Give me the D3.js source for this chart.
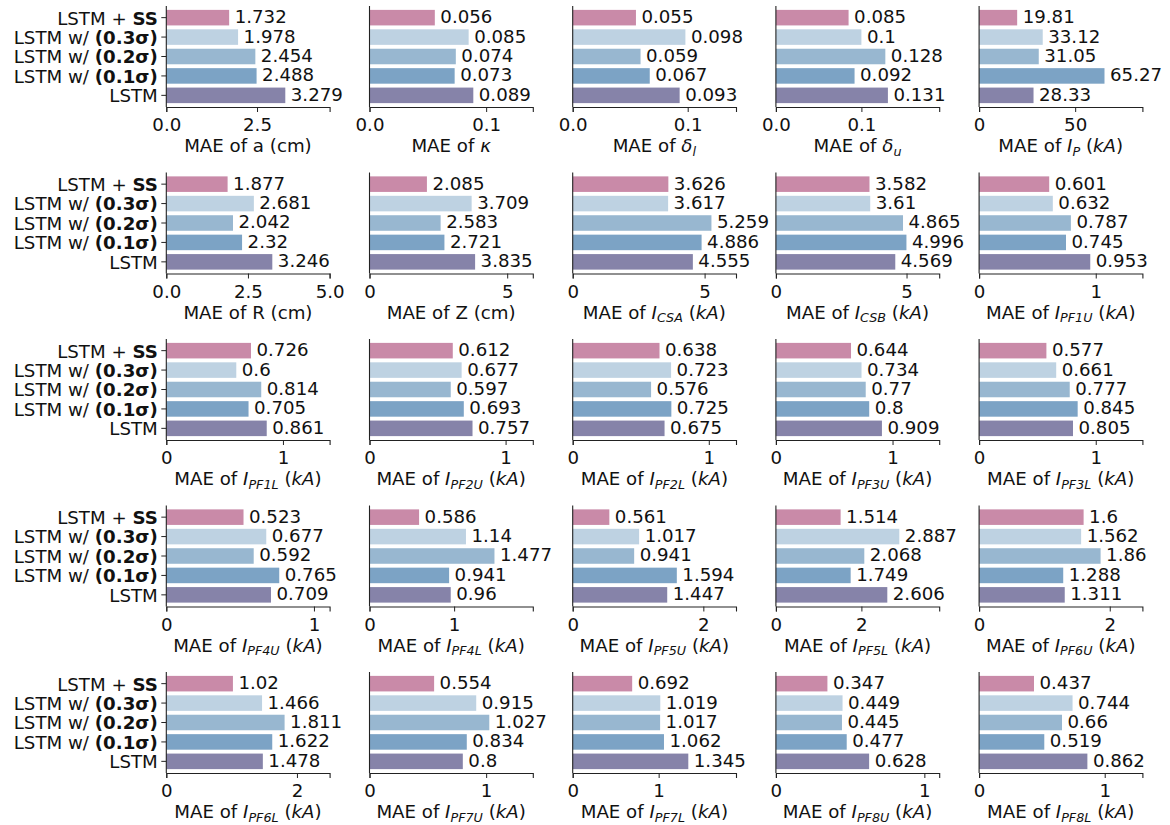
<!DOCTYPE html>
<html><head><meta charset="utf-8">
<script src="https://cdn.jsdelivr.net/npm/d3@7"></script>
<style>body{margin:0;background:#fff}svg{display:block}</style></head>
<body><svg id="c" width="1170" height="825"></svg>
<script>
// ---- data ----
const categories = [["LSTM + ","SS"],["LSTM w/ ","(0.3σ)"],["LSTM w/ ","(0.2σ)"],["LSTM w/ ","(0.1σ)"],["LSTM",""]];
const colors = ["#C98AA8","#BED2E2","#98B7D0","#7CA3C5","#8683A9"];

const mae_a     = [1.732, 1.978, 2.454, 2.488, 3.279];
const mae_kappa = [0.056, 0.085, 0.074, 0.073, 0.089];
const mae_dl    = [0.055, 0.098, 0.059, 0.067, 0.093];
const mae_du    = [0.085, 0.1, 0.128, 0.092, 0.131];
const mae_Ip    = [19.81, 33.12, 31.05, 65.27, 28.33];
const mae_R     = [1.877, 2.681, 2.042, 2.32, 3.246];
const mae_Z     = [2.085, 3.709, 2.583, 2.721, 3.835];
const mae_CSA   = [3.626, 3.617, 5.259, 4.886, 4.555];
const mae_CSB   = [3.582, 3.61, 4.865, 4.996, 4.569];
const mae_PF1U  = [0.601, 0.632, 0.787, 0.745, 0.953];
const mae_PF1L  = [0.726, 0.6, 0.814, 0.705, 0.861];
const mae_PF2U  = [0.612, 0.677, 0.597, 0.693, 0.757];
const mae_PF2L  = [0.638, 0.723, 0.576, 0.725, 0.675];
const mae_PF3U  = [0.644, 0.734, 0.77, 0.8, 0.909];
const mae_PF3L  = [0.577, 0.661, 0.777, 0.845, 0.805];
const mae_PF4U  = [0.523, 0.677, 0.592, 0.765, 0.709];
const mae_PF4L  = [0.586, 1.14, 1.477, 0.941, 0.96];
const mae_PF5U  = [0.561, 1.017, 0.941, 1.594, 1.447];
const mae_PF5L  = [1.514, 2.887, 2.068, 1.749, 2.606];
const mae_PF6U  = [1.6, 1.562, 1.86, 1.288, 1.311];
const mae_PF6L  = [1.02, 1.466, 1.811, 1.622, 1.478];
const mae_PF7U  = [0.554, 0.915, 1.027, 0.834, 0.8];
const mae_PF7L  = [0.692, 1.019, 1.017, 1.062, 1.345];
const mae_PF8U  = [0.347, 0.449, 0.445, 0.477, 0.628];
const mae_PF8L  = [0.437, 0.744, 0.66, 0.519, 0.862];

const panelValues = [mae_a, mae_kappa, mae_dl, mae_du, mae_Ip,
  mae_R, mae_Z, mae_CSA, mae_CSB, mae_PF1U,
  mae_PF1L, mae_PF2U, mae_PF2L, mae_PF3U, mae_PF3L,
  mae_PF4U, mae_PF4L, mae_PF5U, mae_PF5L, mae_PF6U,
  mae_PF6L, mae_PF7U, mae_PF7L, mae_PF8U, mae_PF8L];

const xLabels = ["MAE of a (cm)", "MAE of $\\kappa$", "MAE of $\\delta_{l}$", "MAE of $\\delta_{u}$", "MAE of $I_{P}$ $(kA)$",
  "MAE of R (cm)", "MAE of Z (cm)", "MAE of $I_{CSA}$ $(kA)$", "MAE of $I_{CSB}$ $(kA)$", "MAE of $I_{PF1U}$ $(kA)$",
  "MAE of $I_{PF1L}$ $(kA)$", "MAE of $I_{PF2U}$ $(kA)$", "MAE of $I_{PF2L}$ $(kA)$", "MAE of $I_{PF3U}$ $(kA)$", "MAE of $I_{PF3L}$ $(kA)$",
  "MAE of $I_{PF4U}$ $(kA)$", "MAE of $I_{PF4L}$ $(kA)$", "MAE of $I_{PF5U}$ $(kA)$", "MAE of $I_{PF5L}$ $(kA)$", "MAE of $I_{PF6U}$ $(kA)$",
  "MAE of $I_{PF6L}$ $(kA)$", "MAE of $I_{PF7U}$ $(kA)$", "MAE of $I_{PF7L}$ $(kA)$", "MAE of $I_{PF8U}$ $(kA)$", "MAE of $I_{PF8L}$ $(kA)$"];

const xMax = [4.5, 0.14, 0.142, 0.191, 85,
  5.0, 5.93, 6.19, 6.25, 1.40,
  1.40, 1.20, 1.20, 1.40, 1.40,
  1.106, 1.93, 2.50, 3.82, 2.50,
  2.50, 1.40, 1.90, 1.10, 1.30];

const xTicks = [[0, 2.5], [0, 0.1], [0, 0.1], [0, 0.1], [0, 50],
  [0, 2.5, 5], [0, 5], [0, 5], [0, 5], [0, 1],
  [0, 1], [0, 1], [0, 1], [0, 1], [0, 1],
  [0, 1], [0, 1], [0, 2], [0, 2], [0, 2],
  [0, 2], [0, 1], [0, 1], [0, 1], [0, 1]];
const xTickLabels = [["0.0","2.5"], ["0.0","0.1"], ["0.0","0.1"], ["0.0","0.1"], ["0","50"],
  ["0.0","2.5","5.0"], ["0","5"], ["0","5"], ["0","5"], ["0","1"],
  ["0","1"], ["0","1"], ["0","1"], ["0","1"], ["0","1"],
  ["0","1"], ["0","1"], ["0","2"], ["0","2"], ["0","2"],
  ["0","2"], ["0","1"], ["0","1"], ["0","1"], ["0","1"]];

// ---- layout ----
const FONT = "DejaVu Sans";
const FS = 18.2;
const left0 = 166.3, colPitch = 203.2, axW = 163.3;
const bottom0 = 107, rowPitch = 166.5, axH = 101;
const svg = d3.select("#c");

const greek = {"\\kappa":"κ", "\\delta":"δ"};

function addMathLabel(textSel, str) {
  const parts = str.split("$");
  let pendingDy = 0;
  function span(txt) {
    const t = textSel.append("tspan").text(txt);
    if (pendingDy) { t.attr("dy", pendingDy); pendingDy = 0; }
    return t;
  }
  parts.forEach((p, k) => {
    if (k % 2 === 0) { if (p) span(p); return; }
    let s = p;
    Object.keys(greek).forEach(g => { s = s.split(g).join(greek[g]); });
    const m = s.match(/_\{([^}]*)\}/);
    let main = s, sub = null;
    if (m) { main = s.slice(0, m.index); sub = m[1]; }
    const tokens = main.match(/[()]|[^()]+/g) || [];
    tokens.forEach(tk => {
      const t = span(tk);
      if (tk !== "(" && tk !== ")") t.attr("font-style", "italic");
    });
    if (sub) {
      const sh = 3.6;
      span(sub).attr("font-style", "italic").attr("font-size", FS * 0.7).attr("dy", sh);
      pendingDy = -sh;
    }
  });
}

panelValues.forEach((vals, idx) => {
  const r = Math.floor(idx / 5), c = idx % 5;
  const x0 = left0 + c * colPitch;
  const yb = bottom0 + r * rowPitch;
  const yt = yb - axH;
  const g = svg.append("g");

  const x = d3.scaleLinear().domain([0, xMax[idx]]).range([x0, x0 + axW]);
  const y = d3.scaleLinear().domain([-0.6, 4.6]).range([yt, yb]);
  const bh = y(0.4) - y(-0.4);

  g.selectAll("rect").data(vals).join("rect")
    .attr("x", x(0))
    .attr("y", (d, i) => y(i) - bh / 2)
    .attr("width", d => x(d) - x(0))
    .attr("height", bh)
    .attr("fill", (d, i) => colors[i]);

  g.selectAll("text.val").data(vals).join("text")
    .attr("class", "val")
    .attr("x", d => x(d) + 5.5)
    .attr("y", (d, i) => y(i))
    .attr("dy", "0.3em")
    .attr("font-family", FONT).attr("font-size", FS).attr("fill", "#111")
    .text(d => String(d));

  const ax = d3.axisBottom(x).tickValues(xTicks[idx])
    .tickFormat((d, i) => xTickLabels[idx][i]).tickSizeOuter(0).tickSize(5).tickPadding(6.5);
  const axg = g.append("g").attr("transform", `translate(0,${yb})`).call(ax);
  axg.select(".domain").attr("stroke", "#222").attr("stroke-width", 1.1);
  axg.selectAll(".tick line").attr("stroke", "#222").attr("stroke-width", 1);
  axg.selectAll(".tick text").attr("font-family", FONT).attr("font-size", FS).attr("fill", "#111");

  g.append("line").attr("x1", x0).attr("x2", x0).attr("y1", yt).attr("y2", yb)
    .attr("stroke", "#222").attr("stroke-width", 1.1);

  if (c === 0) {
    categories.forEach((cat, i) => {
      g.append("line").attr("x1", x0 - 5).attr("x2", x0).attr("y1", y(i)).attr("y2", y(i))
        .attr("stroke", "#222").attr("stroke-width", 1);
      const t = g.append("text").attr("x", x0 - 8.5).attr("y", y(i)).attr("dy", "0.38em")
        .attr("text-anchor", "end").attr("font-family", FONT).attr("font-size", FS).attr("fill", "#111");
      t.append("tspan").text(cat[0]);
      if (cat[1]) t.append("tspan").attr("font-weight", "bold").text(cat[1]);
    });
  }

  const xl = g.append("text").attr("x", x0 + axW / 2).attr("y", yb + 45)
    .attr("text-anchor", "middle").attr("font-family", FONT).attr("font-size", FS).attr("fill", "#111");
  addMathLabel(xl, xLabels[idx]);
});
</script></body></html>
